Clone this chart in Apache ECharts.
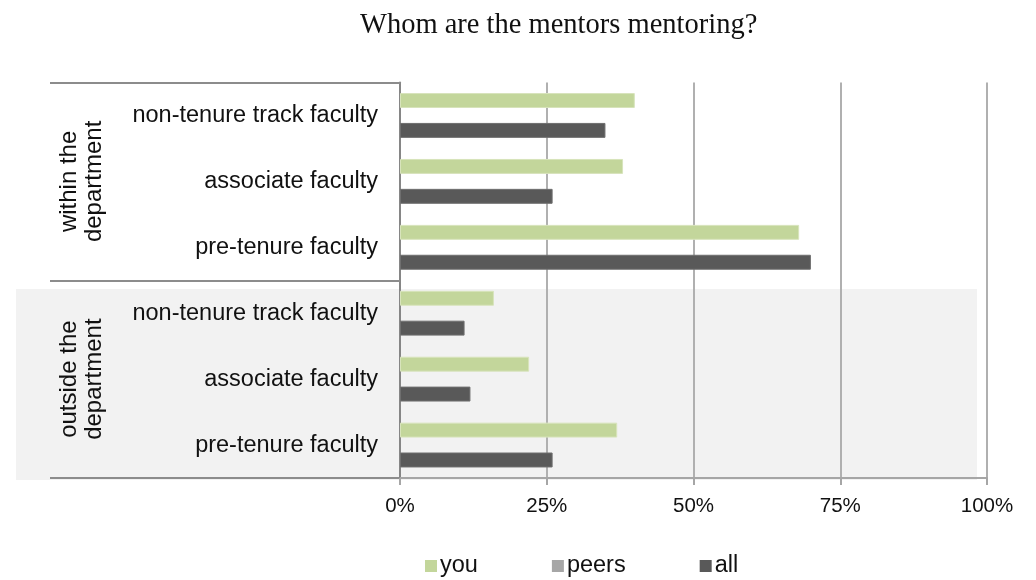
<!DOCTYPE html>
<html>
<head>
    <meta charset="UTF-8">
    <title>Whom are the mentors mentoring?</title>
    <style>
        html, body { margin: 0; padding: 0; background: #fff; }
        #main { width: 1036px; height: 580px; }
    </style>
</head>
<body>
<div id="main"></div>
<script src="https://cdn.jsdelivr.net/npm/echarts@6/dist/echarts.min.js"></script>
<script type="text/javascript">
    // categories, top to bottom
    var categories = ['non-tenure track faculty', 'associate faculty', 'pre-tenure faculty',
        'non-tenure track faculty', 'associate faculty', 'pre-tenure faculty'];
    var groups = ['within the\ndepartment', 'outside the\ndepartment'];
    var xTicks = [0, 25, 50, 75, 100];

    // values in percent
    var youValues = [40, 38, 68, 16, 22, 37];
    var peersValues = [null, null, null, null, null, null];
    var allValues = [35, 26, 70, 11, 12, 26];

    var labelFont = '"Liberation Sans", Arial, sans-serif';

    var myChart = echarts.init(document.getElementById('main'));

    myChart.setOption({
        animation: false,
        title: {
            text: 'Whom are the mentors mentoring?',
            left: 355,
            top: 6,
            textStyle: {
                fontFamily: '"Liberation Serif", "DejaVu Serif", serif',
                fontWeight: 'normal',
                fontSize: 28.5,
                color: '#111'
            }
        },
        legend: {
            data: ['you', 'peers', 'all'],
            left: 425,
            top: 554,
            padding: 0,
            icon: 'rect',
            itemWidth: 12,
            itemHeight: 12,
            itemGap: 74,
            itemStyle: {borderWidth: 0},
            textStyle: {fontFamily: labelFont, fontSize: 23.5, color: '#111', padding: [0, 0, 0, -2]}
        },
        grid: {left: 400, right: 49, top: 82.5, bottom: 102, containLabel: false},
        graphic: [{
            type: 'rect',
            silent: true,
            z: -10,
            shape: {x: 16, y: 289, width: 961, height: 191},
            style: {fill: '#f2f2f2'}
        }],
        xAxis: {
            type: 'value',
            min: 0,
            max: 100,
            interval: 25,
            axisLine: {show: true, lineStyle: {color: '#a6a6a6', width: 2}},
            axisTick: {show: true, length: 7, lineStyle: {color: '#a6a6a6', width: 2}},
            splitLine: {show: true, lineStyle: {color: '#b0b0b0', width: 2}},
            axisLabel: {
                margin: 18,
                fontFamily: labelFont,
                fontSize: 20.5,
                color: '#111',
                formatter: function (v) {
                    return xTicks.indexOf(v) >= 0 ? v + '%' : '';
                }
            }
        },
        yAxis: [{
            type: 'category',
            data: categories,
            inverse: true,
            axisLine: {show: true, lineStyle: {color: '#868686', width: 2}},
            axisTick: {show: false},
            splitLine: {show: false},
            axisLabel: {
                interval: 0,
                margin: 22,
                fontFamily: labelFont,
                fontSize: 23.5,
                color: '#111'
            }
        }, {
            type: 'category',
            data: groups,
            inverse: true,
            position: 'left',
            axisLine: {show: false},
            axisTick: {show: true, interval: 0, length: 350, lineStyle: {color: '#8c8c8c', width: 2}},
            splitLine: {show: false},
            axisLabel: {
                interval: 0,
                rotate: 90,
                margin: 293,
                fontFamily: labelFont,
                fontSize: 24,
                lineHeight: 25,
                color: '#111'
            }
        }],
        series: [{
            name: 'you',
            type: 'bar',
            yAxisIndex: 0,
            barGap: 0,
            barCategoryGap: '32%',
            itemStyle: {color: '#c3d69b', borderColor: '#d8e4bc', borderWidth: 1},
            data: youValues
        }, {
            name: 'peers',
            type: 'bar',
            yAxisIndex: 0,
            barGap: 0,
            barCategoryGap: '32%',
            itemStyle: {color: '#a6a6a6'},
            data: peersValues
        }, {
            name: 'all',
            type: 'bar',
            yAxisIndex: 0,
            barGap: 0,
            barCategoryGap: '32%',
            itemStyle: {color: '#595959', borderColor: '#6f6f6f', borderWidth: 1},
            data: allValues
        }]
    });
</script>
</body>
</html>
